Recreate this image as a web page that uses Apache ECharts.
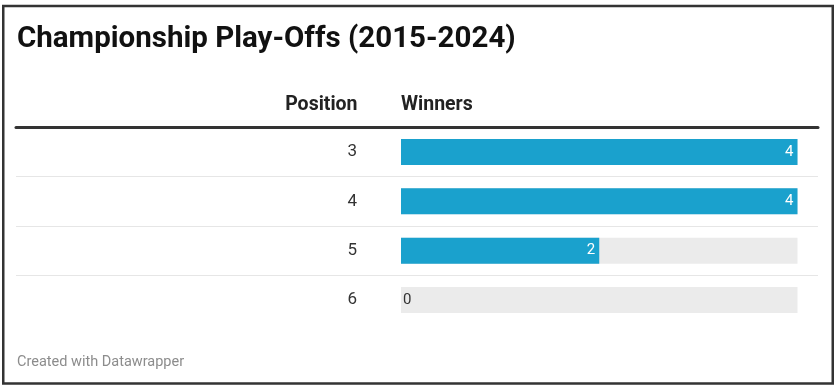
<!DOCTYPE html>
<html>
<head>
<meta charset="utf-8">
<script src="https://cdn.jsdelivr.net/npm/echarts@6/dist/echarts.min.js"></script>
<style>
html,body{margin:0;padding:0;background:#fff;}
#c{width:838px;height:390px;}
</style>
</head>
<body>
<div id="c"></div>
<script>
const titleText = "Championship Play-Offs (2015-2024)";
const headerLabel = "Position";
const headerValue = "Winners";
const footerText = "Created with Datawrapper";
const positions = ["3", "4", "5", "6"];
const winners = [4, 4, 2, 0];
const maxValue = 4;

const FONT = "Roboto, 'Noto Sans', sans-serif";
const chart = echarts.init(document.getElementById('c'), null, {renderer: 'canvas'});

const barData = winners.map(v => v === 0
  ? {value: v, label: {position: 'right', distance: 2, color: '#333'}}
  : v);

const gridTop = 127.3, gridBottom = 390 - 324.7;

chart.setOption({
  animation: false,
  backgroundColor: '#fff',
  textStyle: {fontFamily: FONT},
  grid: [
    {left: 401, right: 838 - 797.5, top: gridTop, bottom: gridBottom},
    {left: 16, right: 838 - 818, top: gridTop, bottom: gridBottom}
  ],
  xAxis: [
    {gridIndex: 0, type: 'value', min: 0, max: maxValue, show: false},
    {gridIndex: 1, type: 'value', min: 0, max: 1, position: 'top',
     axisLine: {show: true, lineStyle: {color: '#333', width: 3}},
     axisTick: {show: false}, axisLabel: {show: false}, splitLine: {show: false}}
  ],
  yAxis: [
    {gridIndex: 0, type: 'category', data: positions, inverse: true,
     axisLine: {show: false}, axisTick: {show: false}, splitLine: {show: false},
     axisLabel: {margin: 44, fontSize: 17, color: '#333', fontFamily: FONT, padding: [3, 0, 0, 0]}},
    {gridIndex: 1, type: 'category', data: positions, inverse: true,
     axisLine: {show: false}, axisTick: {show: false}, axisLabel: {show: false},
     splitLine: {show: true, lineStyle: {color: ['transparent', '#e6e6e6', '#e6e6e6', '#e6e6e6', 'transparent'], width: 1}}}
  ],
  series: [{
    type: 'bar',
    xAxisIndex: 0, yAxisIndex: 0,
    data: barData,
    barWidth: 26,
    itemStyle: {color: '#1aa1cd'},
    showBackground: true,
    backgroundStyle: {color: '#ebebeb'},
    label: {show: true, position: 'insideRight', distance: 4, color: '#fff', fontSize: 15, fontFamily: FONT, padding: [2, 0, 0, 0]},
    emphasis: {disabled: true}
  }],
  graphic: [
    {type: 'rect', shape: {x: 3.25, y: 6, width: 829.5, height: 377.5},
     style: {fill: 'none', stroke: '#333', lineWidth: 2.5}, silent: true},
    {type: 'text', left: 17, top: 24.5,
     style: {text: titleText, font: "bold 29.5px " + FONT, fill: '#111'}},
    {type: 'text', right: 838 - 357.5, top: 95.5,
     style: {text: headerLabel, font: "bold 19.5px " + FONT, fill: '#222', textAlign: 'right'}},
    {type: 'text', left: 401, top: 95.5,
     style: {text: headerValue, font: "bold 19.5px " + FONT, fill: '#222'}},
    {type: 'text', left: 17, top: 355,
     style: {text: footerText, font: "14.5px " + FONT, fill: '#8c8c8c'}}
  ]
});
</script>
</body>
</html>
